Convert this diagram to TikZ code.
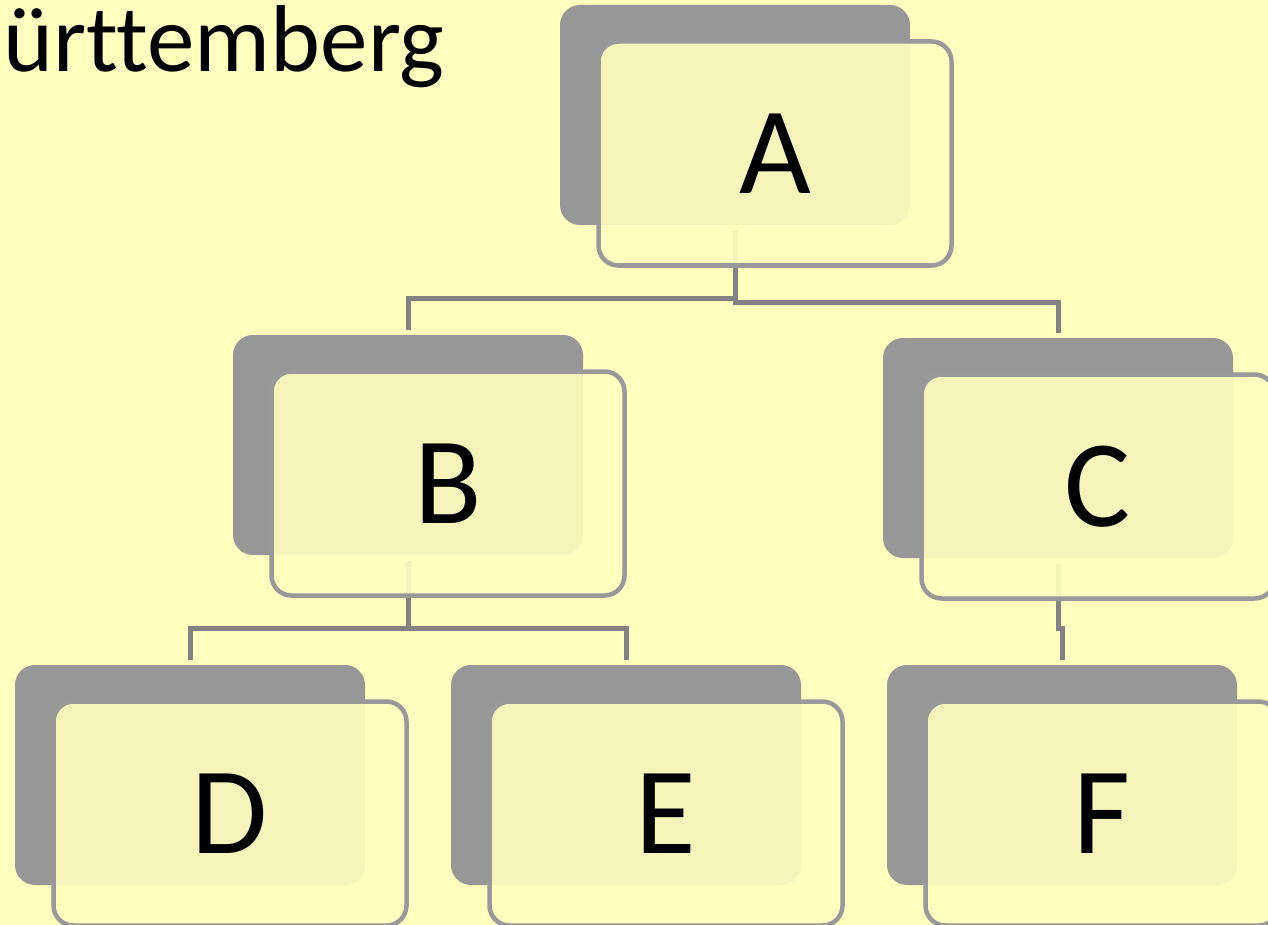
\documentclass[tikz,border=0pt]{standalone}
\usepackage{fontspec}
\setmainfont{Carlito}[Ligatures=NoCommon]
\usepackage{tikz}
\usetikzlibrary{calc}
\definecolor{bgyellow}{HTML}{FFFFC0}
\definecolor{shadegray}{HTML}{979797}
\definecolor{framegray}{HTML}{999999}
\definecolor{linkgray}{HTML}{828282}

\begin{document}
\begin{tikzpicture}[x=1pt,y=-1pt,shorten <=6pt,shorten >=5pt]
        \tikzstyle{back}=[rectangle,rounded corners=20pt,fill=shadegray,minimum width=350pt,minimum height=220pt,inner sep=0pt]
        \tikzstyle{front}=[rectangle,rounded corners=20pt,draw=framegray,line width=4.5pt,fill=bgyellow,fill opacity=0.9,text opacity=1,minimum width=353pt,minimum height=224pt,inner sep=0pt,font=\fontsize{124}{124}\selectfont]
        \tikzstyle{link}=[draw=linkgray,line width=5pt]
        \useasboundingbox (0,0) rectangle (1268,925);
        \clip (0,0) rectangle (1268,925);
        \fill[bgyellow] (0,0) rectangle (1268,925);
        \node[anchor=base west,inner sep=0pt,font=\fontsize{95}{95}\selectfont] (title) at (3,72) {ürttemberg};
        \node[back] (Ag) at (735,115)  {};
        \node[back] (Bg) at (408,445)  {};
        \node[back] (Cg) at (1058,448) {};
        \node[back] (Dg) at (190,775)  {};
        \node[back] (Eg) at (626,775)  {};
        \node[back] (Fg) at (1062,775) {};
        \path[link] (Ag.south) -- ++(0,73) -| (Bg.north);
        \path[link] (Ag.south) -- ++(0,77) -| (Cg.north);
        \path[link] (Bg.south) -- ++(0,73) -| (Dg.north);
        \path[link] (Bg.south) -- ++(0,73) -| (Eg.north);
        \path[link] (Cg.south) -- ++(0,70) -| (Fg.north);
        \node[front] (A) at ($(Ag)+(40,38.5)$) {A};
        \node[front] (B) at ($(Bg)+(40,38.5)$) {B};
        \node[front] (C) at ($(Cg)+(40,38.5)$) {C};
        \node[front] (D) at ($(Dg)+(40,38.5)$) {D};
        \node[front] (E) at ($(Eg)+(40,38.5)$) {E};
        \node[front] (F) at ($(Fg)+(40,38.5)$) {F};
    \end{tikzpicture}
\end{document}
